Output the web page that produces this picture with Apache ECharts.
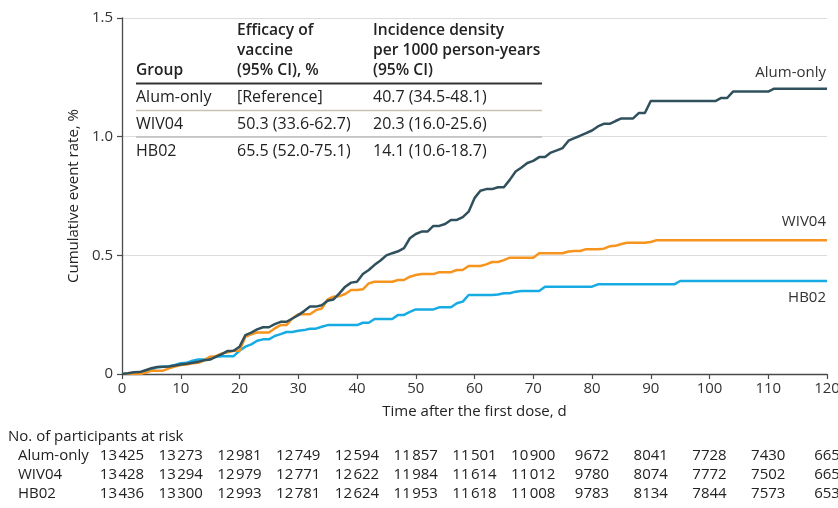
<!DOCTYPE html>
<html><head><meta charset="utf-8">
<script src="https://cdn.jsdelivr.net/npm/echarts@6/dist/echarts.min.js"></script>
<style>html,body{margin:0;padding:0;background:#fff}#c{width:838px;height:508px}</style>
</head><body><div id="c"></div>
<script>
// ---- Data (cumulative event rate, %, one value per day 0..120) ----
const seriesNames = ['Alum-only', 'WIV04', 'HB02'];
const alumOnly = [0,0.003,0.007,0.008,0.016,0.024,0.03,0.031,0.032,0.036,0.04,0.043,0.047,0.052,0.058,0.061,0.073,0.084,0.097,0.098,
0.115,0.164,0.174,0.188,0.197,0.197,0.21,0.22,0.22,0.234,0.248,0.265,0.284,0.284,0.29,0.309,0.314,0.34,0.368,0.385,
0.389,0.421,0.438,0.46,0.478,0.5,0.509,0.517,0.53,0.572,0.59,0.6,0.6,0.624,0.624,0.632,0.649,0.649,0.661,0.684,
0.741,0.772,0.779,0.779,0.787,0.787,0.818,0.853,0.87,0.889,0.898,0.914,0.914,0.933,0.942,0.952,0.983,0.994,1.004,1.015,
1.026,1.043,1.054,1.054,1.066,1.077,1.077,1.077,1.1,1.1,1.15,1.15,1.15,1.15,1.15,1.15,1.15,1.15,1.15,1.15,
1.15,1.15,1.163,1.163,1.19,1.19,1.19,1.19,1.19,1.19,1.19,1.202,1.202,1.202,1.202,1.202,1.202,1.202,1.202,1.202,1.202];
const wiv04 = [0,0,0,0,0.005,0.014,0.014,0.014,0.024,0.031,0.038,0.04,0.045,0.047,0.058,0.073,0.075,0.087,0.092,0.098,
0.098,0.157,0.167,0.175,0.175,0.175,0.192,0.206,0.206,0.234,0.252,0.252,0.252,0.269,0.276,0.314,0.326,0.328,0.337,0.354,
0.354,0.357,0.382,0.389,0.389,0.389,0.389,0.396,0.396,0.41,0.417,0.421,0.421,0.421,0.429,0.429,0.429,0.438,0.438,0.455,
0.455,0.455,0.462,0.472,0.472,0.48,0.49,0.49,0.49,0.49,0.49,0.509,0.509,0.509,0.509,0.509,0.516,0.518,0.518,0.526,
0.526,0.526,0.528,0.538,0.54,0.548,0.553,0.553,0.553,0.553,0.556,0.564,0.564,0.564,0.564,0.564,0.564,0.564,0.564,0.564,
0.564,0.564,0.564,0.564,0.564,0.564,0.564,0.564,0.564,0.564,0.564,0.564,0.564,0.564,0.564,0.564,0.564,0.564,0.564,0.564,0.564];
const hb02 = [0,0,0,0,0.01,0.019,0.028,0.031,0.033,0.038,0.045,0.047,0.056,0.061,0.061,0.066,0.073,0.075,0.075,0.075,
0.098,0.115,0.125,0.14,0.146,0.146,0.16,0.168,0.177,0.177,0.182,0.185,0.191,0.191,0.199,0.206,0.206,0.206,0.206,0.206,
0.206,0.216,0.216,0.232,0.232,0.232,0.232,0.249,0.249,0.262,0.272,0.272,0.272,0.272,0.281,0.281,0.281,0.298,0.305,0.333,
0.333,0.333,0.333,0.333,0.335,0.34,0.34,0.347,0.35,0.35,0.35,0.35,0.368,0.368,0.368,0.368,0.368,0.368,0.368,0.368,
0.368,0.378,0.378,0.378,0.378,0.378,0.378,0.378,0.378,0.378,0.378,0.378,0.378,0.378,0.378,0.392,0.392,0.392,0.392,0.392,
0.392,0.392,0.392,0.392,0.392,0.392,0.392,0.392,0.392,0.392,0.392,0.392,0.392,0.392,0.392,0.392,0.392,0.392,0.392,0.392,0.392];

// ---- At-risk table ----
const riskDays = [0,10,20,30,40,50,60,70,80,90,100,110,120];
const riskAlum = [13425,13273,12981,12749,12594,11857,11501,10900,9672,8041,7728,7430,665];
const riskWiv  = [13428,13294,12979,12771,12622,11984,11614,11012,9780,8074,7772,7502,665];
const riskHb   = [13436,13300,12993,12781,12624,11953,11618,11008,9783,8134,7844,7573,653];

// ---- Inset table ----
const tableHeader = [['Group'], ['Efficacy of','vaccine','(95% CI), %'], ['Incidence density','per 1000 person-years','(95% CI)']];
const tableEfficacy = ['[Reference]', '50.3 (33.6-62.7)', '65.5 (52.0-75.1)'];
const tableIncidence = ['40.7 (34.5-48.1)', '20.3 (16.0-25.6)', '14.1 (10.6-18.7)'];

const colors = ['#2f505c', '#f7941d', '#17abe3'];
const FONT = '"Open Sans", "Noto Sans", sans-serif';
const allSeries = [alumOnly, wiv04, hb02];

const chart = echarts.init(document.getElementById('c'), null, {renderer: 'canvas'});
const axisColor = '#4a4a4a';
chart.setOption({
  animation: false,
  textStyle: {fontFamily: FONT},
  grid: {left: 122, right: 11, top: 18, bottom: 134, outerBoundsMode: 'none', containLabel: false},
  xAxis: {
    type: 'value', min: 0, max: 120, interval: 10,
    name: 'Time after the first dose, d', nameLocation: 'middle', nameGap: 30,
    nameTextStyle: {fontSize: 15, color: '#222', fontFamily: FONT},
    axisLine: {lineStyle: {color: axisColor, width: 1.3}},
    axisTick: {show: true, length: 5, lineStyle: {color: axisColor, width: 1.2}},
    axisLabel: {fontSize: 15, color: '#333', margin: 7, fontFamily: FONT},
    splitLine: {show: false}
  },
  yAxis: {
    type: 'value', min: 0, max: 1.5, interval: 0.5,
    name: 'Cumulative event rate, %', nameLocation: 'middle', nameGap: 38,
    nameTextStyle: {fontSize: 15, color: '#222', fontFamily: FONT},
    axisLine: {show: true, lineStyle: {color: axisColor, width: 1.3}},
    axisTick: {show: true, length: 5, lineStyle: {color: axisColor, width: 1.2}},
    axisLabel: {fontSize: 15, color: '#333', margin: 9, fontFamily: FONT,
      formatter: v => v === 0 ? '0' : v.toFixed(1)},
    splitLine: {show: true, lineStyle: {color: '#dcdcdc', width: 1.2}}
  },
  series: allSeries.map((arr, k) => ({
    name: seriesNames[k], type: 'line', symbol: 'none', smooth: false,
    lineStyle: {color: colors[k], width: 2.5}, itemStyle: {color: colors[k]},
    z: 3 - k,
    data: arr.map((v, i) => [i, v])
  }))
});

const g = [];
const txt = (text, x, y, opts) => Object.assign({type: 'text', style: Object.assign({text, x, y, fill: '#222',
  font: '15px ' + FONT, verticalAlign: 'middle', align: 'left'}, opts || {})});

// end labels
const labelOff = [-16, -18, 17];
allSeries.forEach((arr, k) => {
  const p = chart.convertToPixel({gridIndex: 0}, [arr.length - 1, arr[arr.length - 1]]);
  g.push(txt(seriesNames[k], p[0] - 1, p[1] + labelOff[k], {align: 'right', fill: '#333'}));
});

// inset table
const colX = [136, 237, 373];
const hdrY = [31, 51, 71];
tableHeader.forEach((lines, c) => {
  lines.forEach((s, j) => {
    const y = hdrY[hdrY.length - lines.length + j];
    g.push(txt(s, colX[c], y, {font: '600 15.6px ' + FONT, fill: '#222'}));
  });
});
const rowY = [97, 124, 151];
seriesNames.forEach((nm, r) => {
  g.push(txt(nm, colX[0], rowY[r], {font: '16px ' + FONT}));
  g.push(txt(tableEfficacy[r], colX[1], rowY[r], {font: '16px ' + FONT}));
  g.push(txt(tableIncidence[r], colX[2], rowY[r], {font: '16px ' + FONT}));
});
g.push({type: 'line', shape: {x1: 136, y1: 83.5, x2: 542, y2: 83.5}, style: {stroke: '#333', lineWidth: 2}});
g.push({type: 'line', shape: {x1: 136, y1: 110.5, x2: 542, y2: 110.5}, style: {stroke: '#c9c2b3', lineWidth: 1.3}});
g.push({type: 'line', shape: {x1: 136, y1: 137, x2: 542, y2: 137}, style: {stroke: '#bdbdbd', lineWidth: 1.3}});

// at-risk table
g.push(txt('No. of participants at risk', 8, 437, {fill: '#222'}));
const fmt = n => n >= 10000 ? String(n).slice(0, -3) + '\u200A' + String(n).slice(-3) : String(n);
const riskRows = [riskAlum, riskWiv, riskHb];
const riskY = [456, 475, 494];
riskRows.forEach((row, r) => {
  g.push(txt(seriesNames[r], 18, riskY[r], {fill: '#222'}));
  row.forEach((n, i) => {
    const px = chart.convertToPixel({xAxisIndex: 0}, riskDays[i]);
    g.push(txt(fmt(n), px, riskY[r], {align: 'center', fill: '#222'}));
  });
});

chart.setOption({graphic: {elements: g}});
</script>
</body></html>
